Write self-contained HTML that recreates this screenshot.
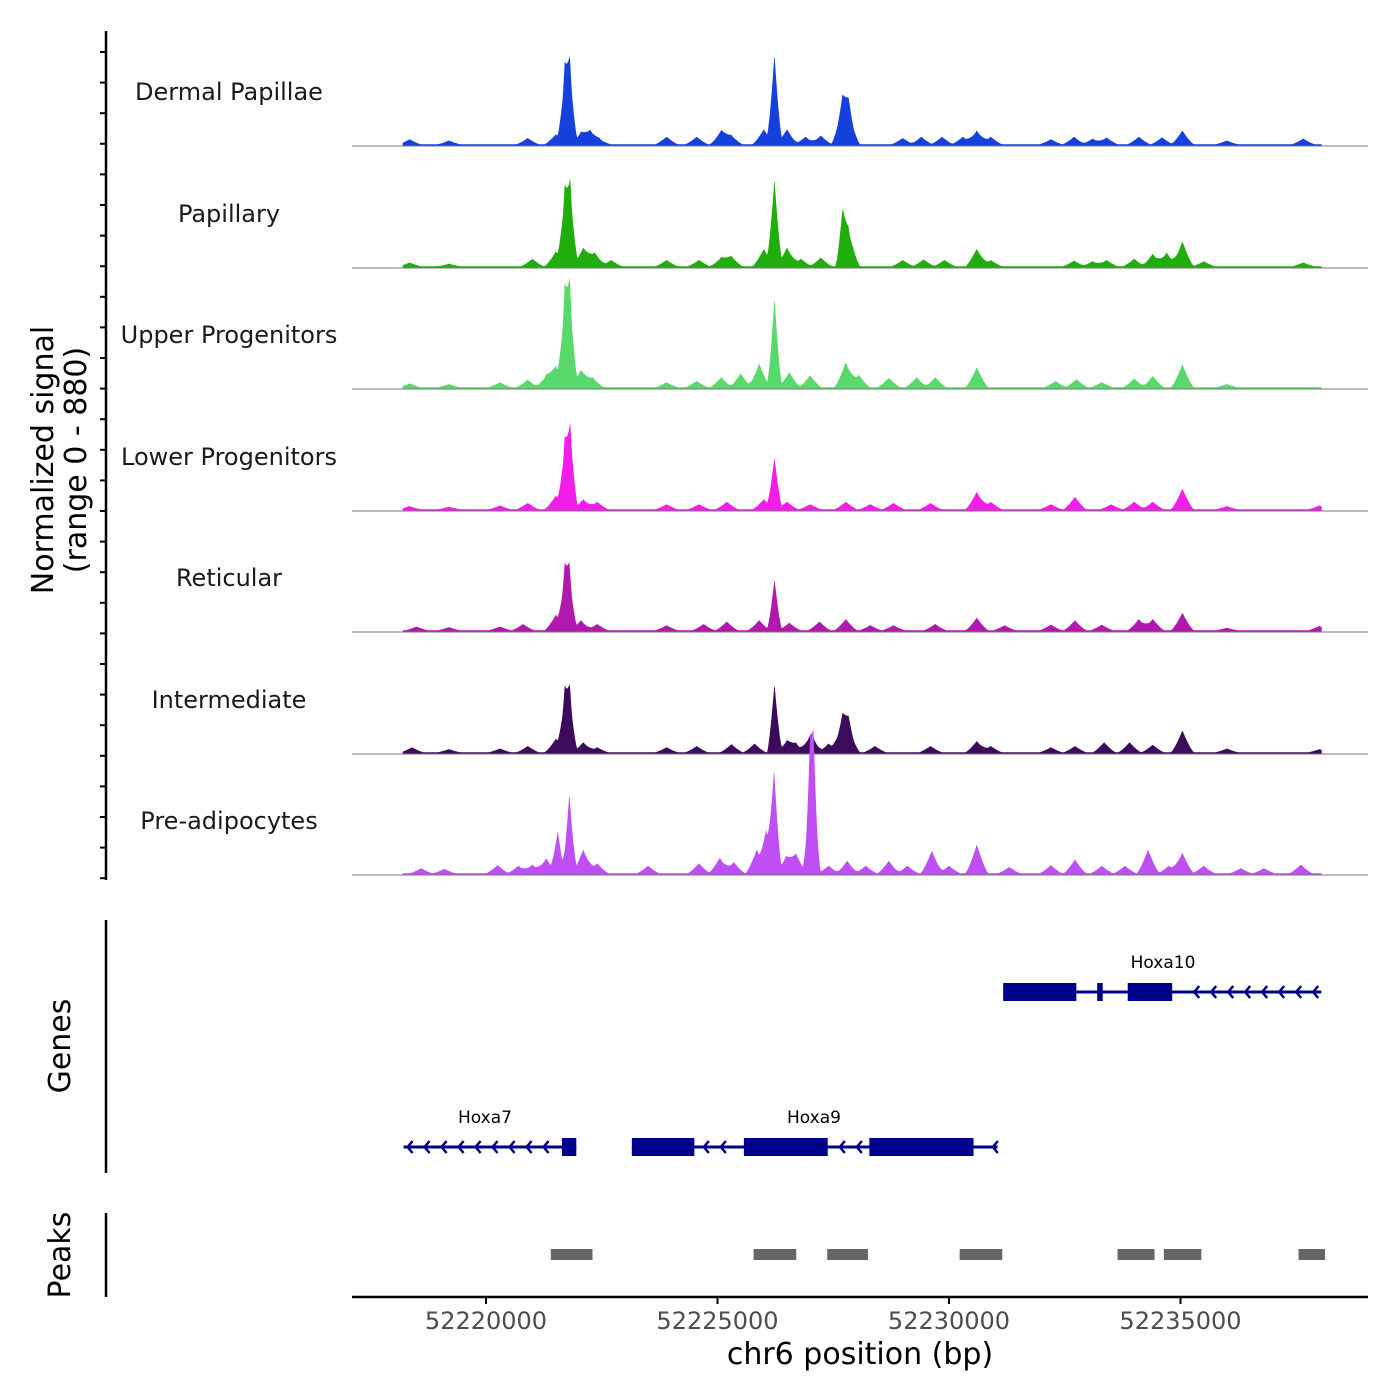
<!DOCTYPE html>
<html><head><meta charset="utf-8">
<style>
body{margin:0;background:#fff;}
svg{display:block;font-family:"DejaVu Sans","Liberation Sans",sans-serif;}
</style></head>
<body>
<svg id="chart" width="1400" height="1400" viewBox="0 0 1400 1400" xmlns="http://www.w3.org/2000/svg">
<g id="tracks"></g>
<g id="genes"></g>
<g id="peaks"></g>
<g id="axes"></g>
</svg>
<script>
// ---- data ----
const trackNames = ["Dermal Papillae","Papillary","Upper Progenitors","Lower Progenitors","Reticular","Intermediate","Pre-adipocytes"];
const trackColors = ["#1540dc","#1fae0c","#59d96b","#f21de8","#b318ae","#3c0b5c","#bf4ff5"];
// peaks: [position bp, signal value]
const dermalPeaks = [[52218350,40],[52219200,30],[52220900,50],[52221510,80],[52221700,520],[52221810,600],[52222050,90],[52222250,100],[52222450,40],[52223900,60],[52224550,60],[52225080,110],[52225300,70],[52226000,120],[52226230,720],[52226500,120],[52226900,60],[52227230,70],[52227700,300],[52227830,260],[52229000,50],[52229400,60],[52229850,60],[52230300,60],[52230600,110],[52230900,60],[52232200,40],[52232700,60],[52233100,45],[52233400,55],[52234100,60],[52234600,55],[52235040,110],[52236000,30],[52237650,45]];
const papillaryPeaks = [[52218350,30],[52219200,20],[52221000,60],[52221510,120],[52221700,540],[52221820,620],[52222100,150],[52222350,110],[52222700,50],[52223900,50],[52224600,50],[52225080,70],[52225300,80],[52226000,140],[52226230,700],[52226500,150],[52226800,60],[52227230,70],[52227700,360],[52227830,280],[52229000,50],[52229450,55],[52229900,50],[52230600,140],[52230900,50],[52232700,45],[52233100,40],[52233400,50],[52234000,60],[52234400,100],[52234700,110],[52235040,200],[52235500,40],[52237650,30]];
const upperPeaks = [[52218350,30],[52219200,25],[52220300,40],[52220900,60],[52221300,90],[52221510,165],[52221700,650],[52221810,740],[52222050,140],[52222300,80],[52223900,40],[52224550,50],[52225080,80],[52225500,110],[52225900,190],[52226230,720],[52226550,120],[52227000,95],[52227770,200],[52228050,100],[52228700,75],[52229300,80],[52229700,80],[52230600,160],[52232300,50],[52232750,65],[52233300,40],[52234000,70],[52234400,90],[52235040,185],[52236000,25]];
const lowerPeaks = [[52218350,25],[52219200,20],[52220300,30],[52220900,50],[52221510,110],[52221700,470],[52221820,620],[52222100,80],[52222400,60],[52223900,40],[52224600,40],[52225200,60],[52226000,80],[52226230,420],[52226500,60],[52227000,40],[52227770,60],[52228300,40],[52228800,50],[52229600,50],[52230600,140],[52230900,60],[52232200,40],[52232720,100],[52233500,40],[52234000,60],[52234400,60],[52235040,165],[52236000,25],[52238000,30]];
const reticularPeaks = [[52218500,30],[52219200,25],[52220300,30],[52220800,50],[52221510,125],[52221700,400],[52221800,440],[52222050,80],[52222400,50],[52223900,40],[52224700,50],[52225200,70],[52225900,80],[52226230,410],[52226550,60],[52227200,70],[52227770,90],[52228300,40],[52228800,40],[52229700,50],[52230600,100],[52231200,40],[52232200,45],[52232720,80],[52233300,45],[52234100,90],[52234400,90],[52235040,140],[52236000,20],[52238000,35]];
const interPeaks = [[52218400,40],[52219200,25],[52220300,30],[52220900,50],[52221510,110],[52221700,420],[52221810,460],[52222100,80],[52222400,40],[52223900,40],[52224550,50],[52225300,65],[52225800,70],[52226230,550],[52226500,90],[52226700,65],[52227020,150],[52227400,70],[52227700,240],[52227830,200],[52228400,50],[52229600,50],[52230600,90],[52230900,50],[52232200,40],[52232720,50],[52233350,80],[52233900,80],[52234400,60],[52235040,175],[52236000,30],[52238000,25]];
const preadipoPeaks = [[52218600,40],[52219100,35],[52220250,65],[52220700,60],[52221000,70],[52221300,120],[52221550,340],[52221800,640],[52222100,190],[52222400,80],[52223500,60],[52224600,80],[52225050,125],[52225350,90],[52225850,190],[52226050,330],[52226220,840],[52226480,130],[52226700,150],[52227000,720],[52227070,820],[52227400,60],[52227800,100],[52228200,60],[52228700,100],[52229100,60],[52229630,180],[52230000,60],[52230600,230],[52231300,50],[52232200,65],[52232720,110],[52233300,60],[52233800,60],[52234300,190],[52234750,60],[52235040,165],[52235500,60],[52236300,40],[52236800,40],[52237600,70]];
const allPeaks = [dermalPeaks,papillaryPeaks,upperPeaks,lowerPeaks,reticularPeaks,interPeaks,preadipoPeaks];
const xTicks = [52220000,52225000,52230000,52235000];
const peakRegions = [[52221400,52222300],[52225780,52226700],[52227370,52228250],[52230230,52231150],[52233640,52234440],[52234640,52235450],[52237550,52238120]];
const geneNames = ["Hoxa10","Hoxa7","Hoxa9"];
const geneSpans = [[52231170,52238040],[52218220,52221950],[52223150,52231050]];
const geneExons = [[[52231170,52232750],[52233200,52233320],[52233860,52234820]],[[52221640,52221950]],[[52223150,52224500],[52225570,52227380],[52228280,52230530]]];
const geneRows = [0,1,1];
const dataStart = 52218200, dataEnd = 52238050;

// ---- scales ----
const X0 = 52220000, PX0 = 486, PXPER = 231.5/5000;
const xs = bp => PX0 + (bp - X0)*PXPER;
const baselines = [146,268,389,511,632,754,875];
const ys = (v, b) => b - v/880*110;
const NS = "http://www.w3.org/2000/svg";
function mk(tag, attrs, parent){const e=document.createElementNS(NS,tag);for(const k in attrs)e.setAttribute(k,attrs[k]);parent.appendChild(e);return e;}

const tg = document.getElementById('tracks');
allPeaks.forEach((pk, ti) => {
  const b = baselines[ti];
  const g = mk('g', {}, tg);
  
  
  const lbl = mk('text', {x:229, y:b-46, 'text-anchor':'middle', 'font-size':24, fill:'#1a1a1a'}, g);
  lbl.textContent = trackNames[ti];
  
  
  const x1 = xs(dataStart), x2 = xs(dataEnd);
  let d = `M${x1},${b}`;
  for (let px = x1; px <= x2; px += 0.5) {
    const bp = X0 + (px - PX0)/PXPER;
    let v = 14;
    pk.forEach(([c,h]) => {
      const w = h > 300 ? 160 : 250;
      const t = 1 - Math.abs(bp - c)/w;
      if (t > 0) v += h*Math.pow(t,1.3);
    });
    d += `L${px.toFixed(1)},${ys(v,b).toFixed(1)}`;
  }
  d += `L${x2},${b}Z`;
  const area = mk('path', {d, fill:trackColors[ti]}, g);
  
  
  const bl = mk('line', {x1:352, x2:1368, y1:b, y2:b, stroke:'#777', 'stroke-width':1}, g);
  
  
});

// genes
const gg = document.getElementById('genes');
const rowY = [992,1147];
geneNames.forEach((n, gi) => {
  const y = rowY[geneRows[gi]];
  const g = mk('g', {}, gg);
  
  
  const [s,e] = geneSpans[gi];
  mk('line', {x1:xs(s), x2:xs(e), y1:y, y2:y, stroke:'#00008b', 'stroke-width':3}, g);
  const exs = geneExons[gi];
  for (let px = xs(s)+4; px < xs(e); px += 17) {
    const bp = X0 + (px-PX0)/PXPER;
    if (exs.some(([a,z]) => bp > a-150 && bp < z+150)) continue;
    mk('polyline', {points:`${px+5},${y-6} ${px},${y} ${px+5},${y+6}`, fill:'none', stroke:'#00008b', 'stroke-width':2.5}, g);
  }
  exs.forEach(([a,z]) => mk('rect', {x:xs(a), y:y-9, width:Math.max(4,xs(z)-xs(a)), height:18, fill:'#00008b'}, g));
  const mid = gi===0 ? 1163 : gi===1 ? 485 : 814;
  const t = mk('text', {x:mid, y:y-24, 'text-anchor':'middle', 'font-size':17, fill:'#000'}, g);
  t.textContent = n;
});

// peaks
const pg = document.getElementById('peaks');
peakRegions.forEach(([a,z]) => {
  const r = mk('rect', {x:xs(a), y:1249, width:xs(z)-xs(a), height:11, fill:'#666'}, pg);
  
  
});

// axes
const ag = document.getElementById('axes');
mk('line', {x1:106, x2:106, y1:31, y2:880, stroke:'#000', 'stroke-width':2.5}, ag);
for (let y = 52; y <= 879; y += 30.6) mk('line', {x1:100, x2:106, y1:y, y2:y, stroke:'#000', 'stroke-width':2}, ag);
mk('line', {x1:106, x2:106, y1:920, y2:1173, stroke:'#000', 'stroke-width':2.5}, ag);
mk('line', {x1:106, x2:106, y1:1213, y2:1297, stroke:'#000', 'stroke-width':2.5}, ag);
mk('line', {x1:352, x2:1368, y1:1297, y2:1297, stroke:'#000', 'stroke-width':2.5}, ag);
xTicks.forEach(v => {
  mk('line', {x1:xs(v), x2:xs(v), y1:1297, y2:1304, stroke:'#000', 'stroke-width':2}, ag);
  const t = mk('text', {x:xs(v), y:1329, 'text-anchor':'middle', 'font-size':24, fill:'#4d4d4d'}, ag);
  t.textContent = v;
  
  
});
const xt = mk('text', {x:860, y:1364, 'text-anchor':'middle', 'font-size':30, fill:'#000'}, ag);
xt.textContent = 'chr6 position (bp)';


const yt = mk('text', {transform:'translate(53,460) rotate(-90)', 'text-anchor':'middle', 'font-size':30, fill:'#000'}, ag);
yt.textContent = 'Normalized signal';


const yt2 = mk('text', {transform:'translate(86,460) rotate(-90)', 'text-anchor':'middle', 'font-size':30, fill:'#000'}, ag);
yt2.textContent = '(range 0 - 880)';


const gt = mk('text', {transform:'translate(70,1046) rotate(-90)', 'text-anchor':'middle', 'font-size':30, fill:'#000'}, ag);
gt.textContent = 'Genes';


const pt = mk('text', {transform:'translate(70,1255) rotate(-90)', 'text-anchor':'middle', 'font-size':30, fill:'#000'}, ag);
pt.textContent = 'Peaks';


</script>
</body></html>
